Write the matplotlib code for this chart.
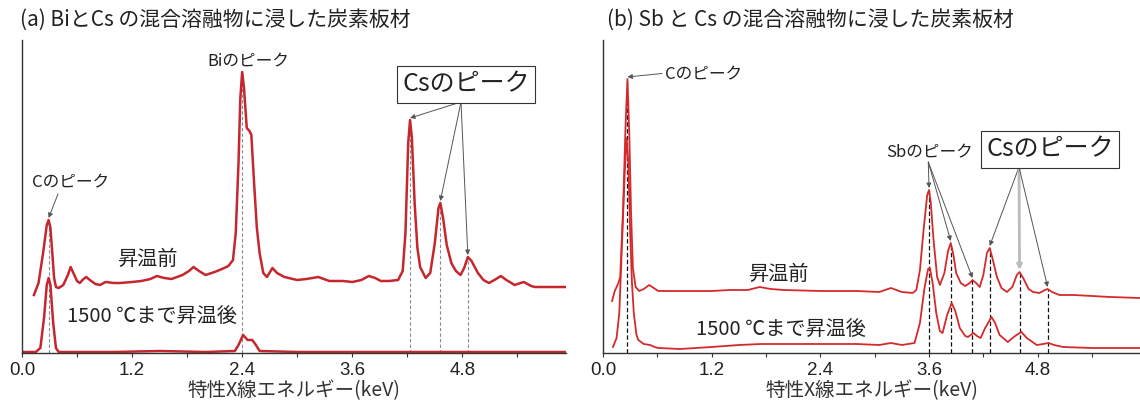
import numpy as np
import matplotlib.pyplot as plt

plt.rcParams["font.family"] = ["Liberation Sans", "Noto Sans CJK JP", "DejaVu Sans"]
JP = ["Noto Sans CJK JP", "DejaVu Sans"]

W, H = 1140, 405

# (a) Bi + Cs : spectrum before heating (energy keV, intensity a.u.)
a_pre_e = [0.13, 0.18, 0.23, 0.27, 0.29, 0.31, 0.33, 0.35, 0.37, 0.40, 0.45, 0.50, 0.53, 0.56,
           0.60, 0.63, 0.67, 0.70, 0.74, 0.80, 0.85, 0.91, 1.00, 1.07, 1.20, 1.30, 1.40, 1.47,
           1.55, 1.63, 1.75, 1.82, 1.87, 1.93, 2.00, 2.10, 2.18, 2.25, 2.30, 2.33, 2.36, 2.38,
           2.40, 2.42, 2.45, 2.48, 2.50, 2.53, 2.56, 2.59, 2.63, 2.67, 2.73, 2.78, 2.86, 3.00,
           3.10, 3.23, 3.35, 3.50, 3.60, 3.70, 3.78, 3.85, 3.91, 4.00, 4.10, 4.15, 4.18, 4.21,
           4.23, 4.25, 4.28, 4.31, 4.34, 4.40, 4.45, 4.50, 4.54, 4.56, 4.59, 4.63, 4.68, 4.73,
           4.78, 4.82, 4.86, 4.90, 4.97, 5.03, 5.09, 5.15, 5.22, 5.28, 5.37, 5.47, 5.55, 5.59,
           5.75, 5.95]
a_pre_i = [58, 70, 100, 128, 133, 125, 100, 75, 66, 65, 68, 78, 86, 80,
           72, 70, 74, 76, 73, 69, 68, 71, 70, 70, 71, 72, 74, 77,
           75, 74, 78, 82, 86, 82, 78, 81, 84, 87, 93, 120, 190, 255,
           281, 265, 225, 222, 218, 170, 125, 100, 80, 76, 85, 80, 76, 73,
           74, 76, 72, 72, 71, 73, 77, 75, 72, 72, 73, 82, 120, 210,
           233, 215, 150, 105, 86, 75, 80, 110, 145, 150, 135, 108, 90, 82,
           78, 85, 96, 92, 80, 73, 70, 73, 77, 73, 68, 71, 67, 66,
           66, 66]
# (a) after heating to 1500 C
a_post_e = [0.00, 0.15, 0.20, 0.24, 0.27, 0.29, 0.31, 0.34, 0.37, 0.40, 1.00, 1.50, 2.00,
            2.32, 2.36, 2.41, 2.46, 2.51, 2.55, 2.59, 3.00, 4.00, 5.00, 5.93]
a_post_i = [1, 1, 5, 35, 68, 75, 68, 30, 5, 1, 1, 2, 1,
            2, 8, 18, 13, 13, 8, 2, 1, 1, 1, 1]
a_peak_e = [0.29, 2.40, 4.23, 4.56, 4.86]
a_peak_i = [133, 281, 233, 150, 96]

# (b) Sb + Cs
b_pre_e = [0.10, 0.13, 0.17, 0.19, 0.22, 0.25, 0.27, 0.29, 0.31, 0.33, 0.36, 0.40, 0.45, 0.51,
           0.56, 0.61, 0.80, 1.00, 1.20, 1.40, 1.60, 1.73, 1.85, 2.00, 2.40, 2.80, 3.05, 3.18,
           3.30, 3.42, 3.46, 3.50, 3.54, 3.58, 3.60, 3.62, 3.65, 3.69, 3.72, 3.77, 3.81, 3.84,
           3.87, 3.90, 3.95, 4.00, 4.05, 4.08, 4.12, 4.16, 4.20, 4.24, 4.27, 4.30, 4.35, 4.40,
           4.46, 4.52, 4.57, 4.60, 4.64, 4.70, 4.75, 4.82, 4.88, 4.91, 4.96, 5.04, 5.20, 5.40,
           5.60, 5.93]
b_pre_i = [52, 62, 70, 76, 140, 230, 274, 220, 140, 85, 66, 62, 64, 68,
           65, 62, 62, 62, 62, 63, 63, 66, 64, 63, 62, 62, 61, 65,
           61, 60, 63, 83, 123, 158, 163, 150, 113, 76, 68, 80, 102, 110,
           98, 80, 70, 67, 70, 73, 70, 66, 78, 100, 105, 95, 76, 65,
           61, 66, 78, 81, 75, 64, 61, 60, 63, 64, 61, 58, 58, 57,
           56, 55]
b_post_e = [0.11, 0.15, 0.18, 0.21, 0.24, 0.26, 0.28, 0.30, 0.32, 0.34, 0.37, 0.39, 0.45, 0.52,
            0.57, 0.61, 0.85, 1.20, 1.50, 1.75, 2.00, 2.40, 2.80, 3.05, 3.18, 3.30, 3.44, 3.50,
            3.55, 3.59, 3.61, 3.64, 3.68, 3.72, 3.75, 3.80, 3.85, 3.89, 3.94, 4.00, 4.03, 4.09,
            4.13, 4.17, 4.22, 4.29, 4.33, 4.38, 4.47, 4.55, 4.62, 4.68, 4.79, 4.86, 4.92, 4.98,
            5.08, 5.40, 5.93]
b_post_i = [6, 15, 40, 110, 180, 215, 190, 120, 70, 40, 18, 13, 9, 8,
            6, 5, 4, 6, 8, 9, 9, 9, 9, 8, 10, 8, 10, 30,
            65, 84, 85, 70, 40, 22, 20, 38, 50, 42, 25, 17, 16, 20,
            17, 15, 25, 36, 30, 18, 11, 17, 21, 15, 8, 9, 10, 8,
            6, 5, 5]
b_c_peak = (0.27, 274)
b_sb_e = [3.60, 3.84, 4.08]
b_sb_i = [163, 110, 73]
b_cs_e = [4.27, 4.60, 4.91]
b_cs_i = [105, 81, 64]

tick_major = [0.0, 1.2, 2.4, 3.6, 4.8]
tick_labels = ["0.0", "1.2", "2.4", "3.6", "4.8"]
tick_minor = [0.6, 1.8, 3.0, 4.2, 5.4]
xlabel = "特性X線エネルギー(keV)"


def fx(x):
    return x / W


def fy(y):
    return 1 - y / H


def setup(ax):
    ax.set_xlim(0, 5.93)
    ax.set_ylim(0, 313.5)
    for s in ["top", "right"]:
        ax.spines[s].set_visible(False)
    for s in ["left", "bottom"]:
        ax.spines[s].set_color("#333333")
        ax.spines[s].set_linewidth(1.0)
    ax.set_yticks([])
    ax.set_xticks(tick_major)
    ax.set_xticklabels(tick_labels, fontsize=13.5, color="#222222")
    ax.set_xticks(tick_minor, minor=True)
    ax.tick_params(axis="x", which="both", direction="out", length=3, width=0.8,
                   color="#333333", pad=3.5)
    ax.set_xlabel(xlabel, family=JP, fontsize=14, color="#333333", labelpad=1)


def arrow(ax, e, i, x0, y0, color="#555555", lw=0.7):
    ax.annotate("", xy=(e, i + 2), xycoords="data",
                xytext=(fx(x0), fy(y0)), textcoords="figure fraction",
                arrowprops=dict(arrowstyle="-|>", color=color, lw=lw,
                                mutation_scale=7, shrinkA=0, shrinkB=0))


fig = plt.figure(figsize=(W / 100, H / 100), dpi=100)

# ---------------- (a)
ax1 = fig.add_axes([fx(22), fy(353), fx(566) - fx(22), fy(39.5) - fy(353)])
setup(ax1)
ax1.vlines(a_peak_e, 0, a_peak_i, colors="#8a8a8a", linestyles=(0, (3, 2)), lw=0.8)
ax1.plot(a_post_e, a_post_i, color="#c4272d", lw=1.8, solid_joinstyle="round")
ax1.plot(a_pre_e, a_pre_i, color="#c4272d", lw=1.8, solid_joinstyle="round")

fig.text(fx(20), fy(20), "(a) BiとCs の混合溶融物に浸した炭素板材", family=JP,
         fontsize=15, color="#222222", ha="left", va="center")
fig.text(fx(248), fy(62), "Biのピーク", family=JP, fontsize=12, color="#222222",
         ha="center", va="center")
fig.text(fx(71), fy(183), "Cのピーク", family=JP, fontsize=12, color="#222222",
         ha="center", va="center")
arrow(ax1, a_peak_e[0], a_peak_i[0], 58, 194)
fig.text(fx(147), fy(259), "昇温前", family=JP, fontsize=14.5, color="#222222",
         ha="center", va="center")
fig.text(fx(67), fy(316), "1500 ℃まで昇温後", family=JP, fontsize=14.5, color="#222222",
         ha="left", va="center")
fig.text(fx(466), fy(84), "Csのピーク", family=JP, fontsize=18, color="#222222",
         ha="center", va="center",
         bbox=dict(boxstyle="square,pad=0.22", fc="white", ec="#333333", lw=0.8))
for e, i in zip(a_peak_e[2:], a_peak_i[2:]):
    arrow(ax1, e, i, 461, 102)

# ---------------- (b)
ax2 = fig.add_axes([fx(603), fy(353), 1 - fx(603), fy(39.5) - fy(353)])
setup(ax2)
b_dash_e = [b_c_peak[0]] + b_sb_e + b_cs_e
b_dash_i = [b_c_peak[1]] + b_sb_i + b_cs_i
ax2.vlines(b_dash_e, 0, b_dash_i, colors="#111111", linestyles=(0, (3.5, 2)), lw=0.9)
ax2.plot(b_post_e, b_post_i, color="#d42a2c", lw=1.3, solid_joinstyle="round")
ax2.plot(b_pre_e, b_pre_i, color="#d42a2c", lw=1.3, solid_joinstyle="round")

fig.text(fx(607), fy(20), "(b) Sb と Cs の混合溶融物に浸した炭素板材", family=JP,
         fontsize=15, color="#222222", ha="left", va="center")
fig.text(fx(665), fy(75), "Cのピーク", family=JP, fontsize=12, color="#222222",
         ha="left", va="center")
arrow(ax2, b_c_peak[0], b_c_peak[1], 662, 73.5)
fig.text(fx(930), fy(152.5), "Sbのピーク", family=JP, fontsize=12, color="#222222",
         ha="center", va="center")
for e, i in zip(b_sb_e, b_sb_i):
    arrow(ax2, e, i, 928.3, 162)
fig.text(fx(1050), fy(149.5), "Csのピーク", family=JP, fontsize=18, color="#222222",
         ha="center", va="center",
         bbox=dict(boxstyle="square,pad=0.22", fc="white", ec="#333333", lw=0.8))
for k, (e, i) in enumerate(zip(b_cs_e, b_cs_i)):
    if k == 1:
        arrow(ax2, e, i, 1019, 167, color="#bbbbbb", lw=2.0)
    else:
        arrow(ax2, e, i, 1019, 167)
fig.text(fx(778), fy(274), "昇温前", family=JP, fontsize=14.5, color="#222222",
         ha="center", va="center")
fig.text(fx(696), fy(329), "1500 ℃まで昇温後", family=JP, fontsize=14.5, color="#222222",
         ha="left", va="center")

fig.savefig("out.png", dpi=100)
